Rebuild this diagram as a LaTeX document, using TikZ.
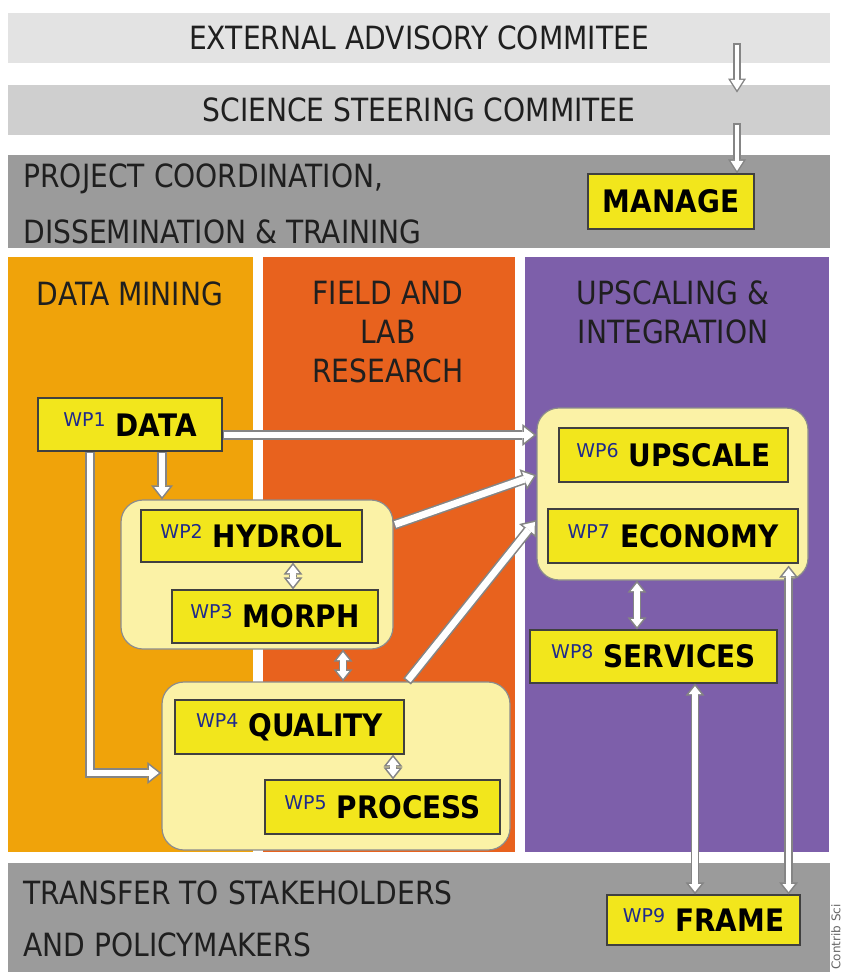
\documentclass[tikz,border=0pt]{standalone}
\usepackage{fontspec}
\setmainfont{DejaVu Sans}
\newfontfamily\narrowfont[FakeStretch=0.88]{DejaVu Sans}
\newfontfamily\wpfont[FakeStretch=0.9]{DejaVu Sans}
\usepackage{tikz}
\usetikzlibrary{positioning, arrows.meta}

\definecolor{extgrey}{HTML}{E3E3E3}
\definecolor{scigrey}{HTML}{CFCFCF}
\definecolor{darkgrey}{HTML}{9B9B9B}
\definecolor{minecol}{HTML}{F0A30A}
\definecolor{fieldcol}{HTML}{E8621E}
\definecolor{upcol}{HTML}{7D5FAA}
\definecolor{wpyellow}{HTML}{F2E61C}
\definecolor{grouplight}{HTML}{FBF2A6}
\definecolor{wpblue}{HTML}{1F2A8C}
\definecolor{arrowgrey}{HTML}{858585}

\newcommand{\wplabel}[2]{{\normalfont\fontsize{9.5}{10}\selectfont\color{wpblue}\raisebox{4.6pt}{WP#1}}\hspace{5pt}#2}

\begin{document}
\begin{tikzpicture}[
    x=0.5pt, y=-0.5pt,
    bandstyle/.style={inner sep=0pt, minimum width=411pt, text=black!88,
        font=\narrowfont\fontsize{16}{19}\selectfont},
    colstyle/.style={inner sep=0pt, minimum height=297.5pt},
    headstyle/.style={inner sep=0pt, align=center, text=black!88,
        font=\narrowfont\fontsize{16}{19.5}\selectfont},
    groupstyle/.style={draw=black!45, fill=grouplight, rounded corners=11pt,
        line width=0.6pt, inner sep=0pt},
    wpstyle/.style={draw=black!75, fill=wpyellow, line width=0.6pt, inner sep=0pt,
        font=\wpfont\bfseries\fontsize{15.5}{16}\selectfont},
    flow/.style={draw=arrowgrey, line width=5pt,
        -{Triangle[length=7pt, width=11pt, line width=0pt]},
        postaction={draw=white, line width=3.4pt, shorten >=1.3pt, shorten <=0.8pt,
            -{Triangle[length=4.9pt, width=7.7pt, line width=0pt]}}},
    slimflow/.style={draw=arrowgrey, line width=3.6pt,
        -{Triangle[length=7pt, width=9pt, line width=0pt]},
        postaction={draw=white, line width=2.2pt, shorten >=1.3pt, shorten <=0.7pt,
            -{Triangle[length=5pt, width=6.4pt, line width=0pt]}}},
    twoway/.style={draw=arrowgrey, line width=4.4pt,
        {Triangle[length=6pt, width=9.5pt, line width=0pt]}-{Triangle[length=6pt, width=9.5pt, line width=0pt]},
        postaction={draw=white, line width=2.8pt, shorten >=1.3pt, shorten <=1.3pt,
            {Triangle[length=3.9pt, width=6.2pt, line width=0pt]}-{Triangle[length=3.9pt, width=6.2pt, line width=0pt]}}}
  ]
    \fill[white] (0,0) rectangle (845,972);
    \useasboundingbox (0,0) rectangle (845,972);

    % committees and coordination bands
    \node[bandstyle, fill=extgrey, minimum height=25pt] (extband) at (419,38) {EXTERNAL ADVISORY COMMITEE};
    \node[bandstyle, fill=scigrey, minimum height=25pt] (sciband) at (419,110) {SCIENCE STEERING COMMITEE};
    \node[bandstyle, fill=darkgrey, minimum height=46.5pt] (projband) at (419,201.5) {};
    \node[headstyle, align=left, anchor=west, font=\narrowfont\fontsize{16}{28.25}\selectfont]
        (projtext) at (23,204) {PROJECT COORDINATION,\\DISSEMINATION \& TRAINING};
    \node[bandstyle, fill=darkgrey, minimum height=54.5pt] (transband) at (419,917.5) {};
    \node[headstyle, align=left, anchor=west, font=\narrowfont\fontsize{16}{25.75}\selectfont]
        (transtext) at (23,919) {TRANSFER TO STAKEHOLDERS\\AND POLICYMAKERS};

    % the three research columns
    \node[colstyle, fill=minecol, minimum width=122.5pt] (minecolumn) at (130.5,554.5) {};
    \node[colstyle, fill=fieldcol, minimum width=126pt] (fieldcolumn) at (389,554.5) {};
    \node[colstyle, fill=upcol, minimum width=152pt] (upcolumn) at (677,554.5) {};
    \node[headstyle] (minehead) at (130,293.5) {DATA MINING};
    \node[headstyle] (fieldhead) at (388,332) {FIELD AND\\LAB\\RESEARCH};
    \node[headstyle] (uphead) at (673,312.5) {UPSCALING \&\\INTEGRATION};

    % groups of work packages
    \node[groupstyle, minimum width=136pt, minimum height=74.5pt] (hydgroup) at (257,574.5) {};
    \node[groupstyle, minimum width=174pt, minimum height=84pt] (qualgroup) at (336,766) {};
    \node[groupstyle, minimum width=135.5pt, minimum height=86pt] (upgroup) at (672.5,494) {};

    % work packages
    \node[wpstyle, minimum width=83pt, minimum height=27.5pt] (manage) at (671,201.5) {MANAGE};
    \node[wpstyle, minimum width=92pt, minimum height=26.5pt] (data) at (130,424.5) {\wplabel{1}{DATA}};
    \node[wpstyle, minimum width=110.5pt, minimum height=26pt] (hydrol) at (251.5,536) {\wplabel{2}{HYDROL}};
    \node[wpstyle, minimum width=103pt, minimum height=26.5pt] (morph) at (275,616.5) {\wplabel{3}{MORPH}};
    \node[wpstyle, minimum width=114.5pt, minimum height=27pt] (quality) at (289.5,727) {\wplabel{4}{QUALITY}};
    \node[wpstyle, minimum width=117.5pt, minimum height=27pt] (process) at (382.5,807) {\wplabel{5}{PROCESS}};
    \node[wpstyle, minimum width=114.5pt, minimum height=27pt] (upscale) at (673.5,455) {\wplabel{6}{UPSCALE}};
    \node[wpstyle, minimum width=125pt, minimum height=27pt] (economy) at (673,536) {\wplabel{7}{ECONOMY}};
    \node[wpstyle, minimum width=123.5pt, minimum height=26.5pt] (services) at (653.5,656.5) {\wplabel{8}{SERVICES}};
    \node[wpstyle, minimum width=96.5pt, minimum height=25pt] (frame) at (703.5,920) {\wplabel{9}{FRAME}};

    \node[rotate=90, anchor=east, inner sep=0pt, text=black!60,
        font=\fontsize{6}{6}\selectfont] (credit) at (836,904) {Contrib Sci};

    % links between bands and packages
    \draw[slimflow] ([xshift=159pt,yshift=10pt]extband.south) -- ([xshift=159pt,yshift=-4pt]extband.south |- sciband.north);
    \draw[slimflow] ([xshift=159pt,yshift=6pt]sciband.south) -- ([xshift=159pt]sciband.south |- manage.north);
    \draw[flow] ([yshift=-5.25pt]data.east) -- ([yshift=-5.25pt]data.east -| upgroup.west);
    \draw[flow] ([xshift=16pt]data.south) -- ([xshift=16pt]data.south |- hydgroup.north);
    \draw[flow] ([xshift=-20pt]data.south) |- ([yshift=-3.5pt]qualgroup.west);
    \draw[flow] ([yshift=24.75pt]hydgroup.east) -- ([yshift=9.5pt]upgroup.west);
    \draw[flow] ([xshift=35.5pt]qualgroup.north) -- ([yshift=-13pt]upgroup.west);
    \draw[twoway] ([xshift=20.75pt]hydrol.south) -- ([xshift=20.75pt]hydrol.south |- morph.north);
    \draw[twoway] ([xshift=43pt]hydgroup.south) -- ([xshift=43pt]hydgroup.south |- qualgroup.north);
    \draw[twoway] ([xshift=51.75pt]quality.south) -- ([xshift=51.75pt]quality.south |- process.north);
    \draw[twoway] ([xshift=-17.75pt]upgroup.south) -- ([xshift=-17.75pt]upgroup.south |- services.north);
    \draw[twoway] ([xshift=20.75pt]services.south) -- ([xshift=20.75pt]services.south |- frame.north);
    \draw[twoway] ([xshift=-10pt,yshift=7.5pt]upgroup.south east) -- ([xshift=-10pt]upgroup.south east |- frame.north);
\end{tikzpicture}
\end{document}
